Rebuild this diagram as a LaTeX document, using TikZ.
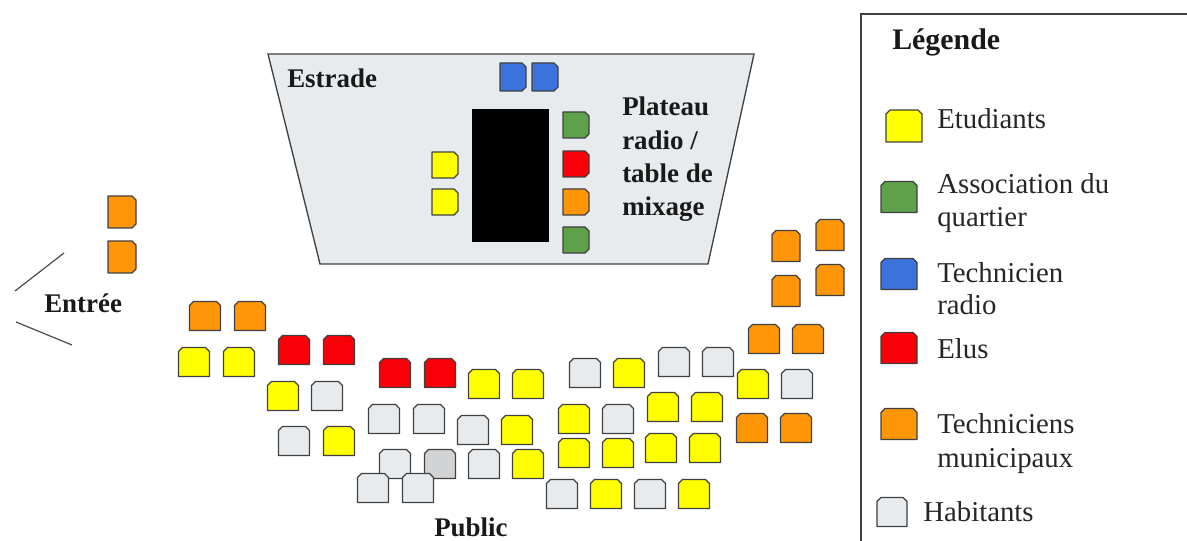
\documentclass[tikz,border=0pt]{standalone}
\usepackage{fontspec}
\setmainfont{Liberation Serif}
\definecolor{cY}{HTML}{FFFF00}
\definecolor{cG}{HTML}{5FA04A}
\definecolor{cB}{HTML}{3C72DC}
\definecolor{cR}{HTML}{F80008}
\definecolor{cO}{HTML}{FF9608}
\definecolor{cH}{HTML}{E8EBED}
\definecolor{cD}{HTML}{D2D3D4}
\definecolor{cStage}{HTML}{E8EBED}
\tikzset{
  x=0.75pt,y=-0.75pt,
  seatline/.style={draw=black!75,line width=1pt,line join=round},
  lab/.style={anchor=base west,inner sep=0pt,text=black!85,font=\fontsize{21.6}{25}\selectfont},
  head/.style={anchor=base west,inner sep=0pt,text=black!90,font=\fontsize{20.2}{24.8}\selectfont\bfseries},
}
% up-facing seat: centre x, y, fill, half width, half height
\newcommand\seatU[5]{\draw[seatline,fill=#3] (#1-#4,#2+#5) -- (#1+#4,#2+#5) -- (#1+#4,#2-#5+4) -- (#1+#4-4,#2-#5) -- (#1-#4+4,#2-#5) -- (#1-#4,#2-#5+4) -- cycle;}
% right-facing seat
\newcommand\seatR[5]{\draw[seatline,fill=#3] (#1-#4,#2-#5) -- (#1+#4-4,#2-#5) -- (#1+#4,#2-#5+4) -- (#1+#4,#2+#5-4) -- (#1+#4-4,#2+#5) -- (#1-#4,#2+#5) -- cycle;}
\newcommand\pub[3]{\seatU{#1}{#2}{#3}{15.5}{14.5}}
\begin{document}
\begin{tikzpicture}
\useasboundingbox (0,0) rectangle (1187,541);
% stage
\draw[fill=cStage,draw=black!75,line width=1pt] (268,54) -- (754,54) -- (708,264) -- (320,264) -- cycle;
\fill[black] (472,109) rectangle (549,242);
\seatR{513}{77}{cB}{13}{14}
\seatR{545}{77}{cB}{13}{14}
\seatR{445}{165}{cY}{13}{13}
\seatR{445}{202}{cY}{13}{13}
\seatR{576}{125}{cG}{13}{13}
\seatR{576}{164}{cR}{13}{13}
\seatR{576}{202}{cO}{13}{13}
\seatR{576}{240}{cG}{13}{13}
\node[head] (estrade) at (287,88) {Estrade};
\node[head,align=left,anchor=north west] (plateau) at (622,97) {Plateau\\radio /\\table de\\mixage};
% entrance
\seatR{122}{212}{cO}{14}{16}
\seatR{122}{257}{cO}{14}{16}
\draw[black!70,line width=0.9pt] (15,291) -- (64,253);
\draw[black!70,line width=0.9pt] (16,322) -- (72,345);
\node[head] (entree) at (44,312) {Entrée};
% public
\pub{205}{316}{cO}\pub{250}{316}{cO}
\pub{194}{362}{cY}\pub{239}{362}{cY}
\pub{294}{350}{cR}\pub{339}{350}{cR}
\pub{283}{396}{cY}\pub{327}{396}{cH}
\pub{294}{441}{cH}\pub{339}{441}{cY}
\pub{395}{373}{cR}\pub{440}{373}{cR}
\pub{484}{384}{cY}\pub{528}{384}{cY}
\pub{384}{419}{cH}\pub{429}{419}{cH}
\pub{473}{430}{cH}\pub{517}{430}{cY}
\pub{395}{464}{cH}\pub{440}{464}{cD}\pub{484}{464}{cH}\pub{528}{464}{cY}
\pub{373}{488}{cH}\pub{418}{488}{cH}
\pub{585}{373}{cH}\pub{629}{373}{cY}
\pub{674}{362}{cH}\pub{718}{362}{cH}
\pub{574}{419}{cY}\pub{618}{419}{cH}
\pub{663}{407}{cY}\pub{707}{407}{cY}
\pub{574}{453}{cY}\pub{618}{453}{cY}\pub{661}{448}{cY}\pub{705}{448}{cY}
\pub{562}{494}{cH}\pub{606}{494}{cY}\pub{650}{494}{cH}\pub{694}{494}{cY}
\pub{753}{384}{cY}\pub{797}{384}{cH}
\pub{764}{339}{cO}\pub{808}{339}{cO}
\pub{752}{428}{cO}\pub{796}{428}{cO}
\seatU{786}{246}{cO}{14}{15.5}\seatU{786}{291}{cO}{14}{15.5}
\seatU{830}{235}{cO}{14}{15.5}\seatU{830}{280}{cO}{14}{15.5}
\node[head] (public) at (434,536) {Public};
% legend
\draw[black!75,line width=1.2pt] (1187,14) -- (861,14) -- (861,541);
\node[head,font=\fontsize{22.4}{26}\selectfont\bfseries] (legende) at (892,50) {Légende};
\seatU{904}{126}{cY}{18}{16}
\node[lab] (l1) at (937,129) {Etudiants};
\seatU{899}{197}{cG}{18}{15.5}
\node[lab] (l2) at (937,194) {Association du};
\node[lab] (l2b) at (937,227) {quartier};
\seatU{899}{274}{cB}{18}{15.5}
\node[lab] (l3) at (937,282) {Technicien};
\node[lab] (l3b) at (937,315) {radio};
\seatU{899}{348}{cR}{18}{15.5}
\node[lab] (l4) at (937,358) {Elus};
\seatU{899}{424}{cO}{18}{15.5}
\node[lab] (l5) at (937,433) {Techniciens};
\node[lab] (l5b) at (937,467) {municipaux};
\seatU{892}{512}{cH}{15}{14.5}
\node[lab] (l6) at (923,521) {Habitants};
\end{tikzpicture}
\end{document}
